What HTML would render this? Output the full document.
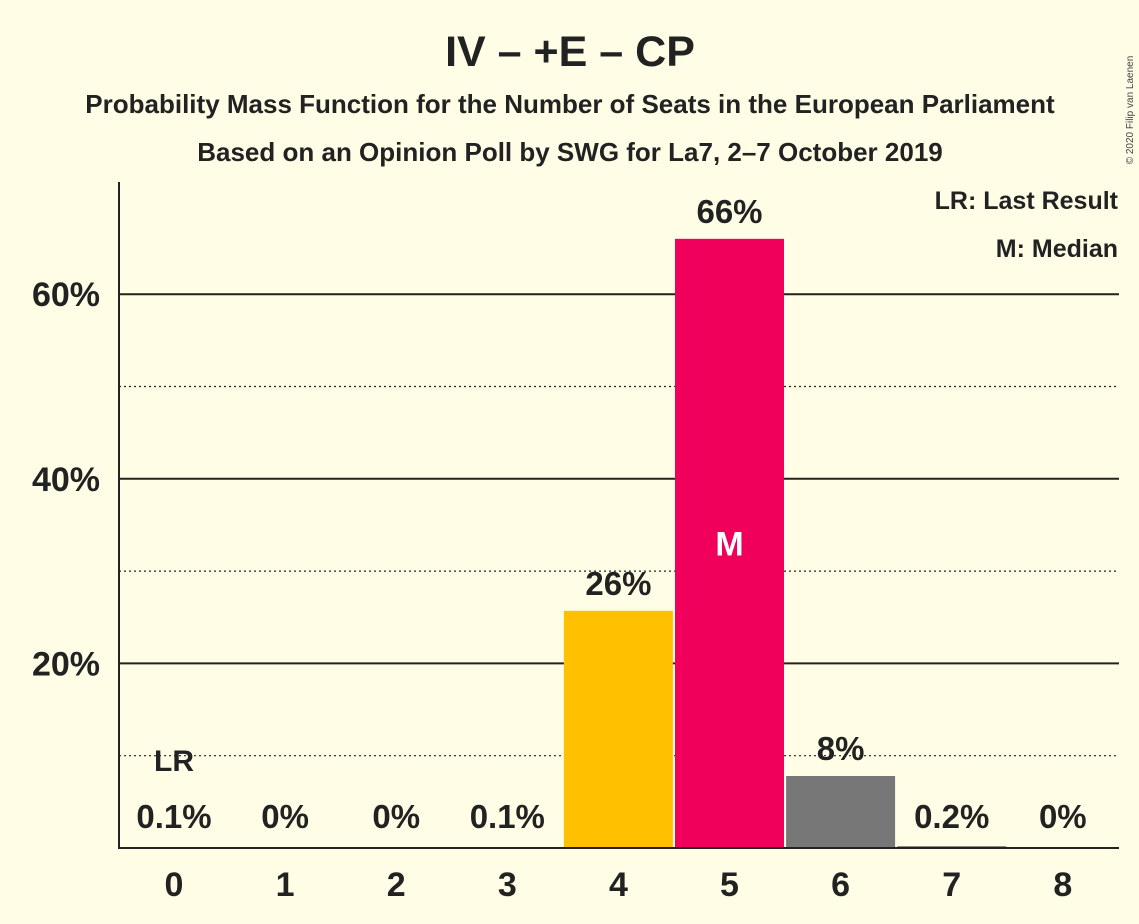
<!DOCTYPE html>
<html><head><meta charset="utf-8"><style>
body{margin:0;background:#fffee6;}
svg{display:block;font-family:"Liberation Sans",sans-serif;}
</style></head><body>
<svg id="chart" width="1139" height="924" viewBox="0 0 1139 924">
<rect width="1139" height="924" fill="#fffde5"/>
<text x="570" y="66" text-anchor="middle" font-size="43" font-weight="bold" fill="#222">IV – +E – CP</text>
<text x="570" y="113" text-anchor="middle" font-size="26" font-weight="bold" fill="#222">Probability Mass Function for the Number of Seats in the European Parliament</text>
<text x="570" y="161" text-anchor="middle" font-size="26" font-weight="bold" fill="#222">Based on an Opinion Poll by SWG for La7, 2–7 October 2019</text>
<text x="1133" y="110" font-size="10" fill="#444" transform="rotate(-90 1133 110)" text-anchor="middle">© 2020 Filip van Laenen</text>
<text x="1118" y="209" text-anchor="end" font-size="25" font-weight="bold" fill="#222">LR: Last Result</text>
<text x="1118" y="257" text-anchor="end" font-size="25" font-weight="bold" fill="#222">M: Median</text>
<g id="grid"></g><g id="bars"></g><g id="labels"></g>
<line x1="119" y1="182" x2="119" y2="848" stroke="#222" stroke-width="2"/>
<line x1="118" y1="848" x2="1119" y2="848" stroke="#222" stroke-width="2"/>
</svg>
<script>
const seats=[0,1,2,3,4,5,6,7,8];
const probs=[0.1,0,0,0.1,25.7,66,7.8,0.2,0];
const valueLabels=["0.1%","0%","0%","0.1%","26%","66%","8%","0.2%","0%"];
const colors=["#ffc000","#ffc000","#ffc000","#ffc000","#ffc000","#f0005a","#777777","#777777","#777777"];
const yTicks=[20,40,60];
const yMinor=[10,30,50];
const lastResult=0, median=5;
const NS="http://www.w3.org/2000/svg";
const y=v=>848-v*9.23;
const x=s=>174+s*111.1;
const bw=109;
function mk(t,a,p){const e=document.createElementNS(NS,t);for(const k in a)e.setAttribute(k,a[k]);p.appendChild(e);return e;}
const g=document.getElementById('grid'),b=document.getElementById('bars'),l=document.getElementById('labels');
yMinor.forEach(v=>{const e=mk('line',{x1:119,x2:1119,y1:y(v),y2:y(v),stroke:'#222','stroke-width':1.2,'stroke-dasharray':'2,3'},g);

});
yTicks.forEach(v=>{const e=mk('line',{x1:119,x2:1119,y1:y(v),y2:y(v),stroke:'#222','stroke-width':2},g);


const t=mk('text',{x:100,y:y(v)+12,'text-anchor':'end','font-size':34,'font-weight':'bold',fill:'#222'},l);t.textContent=v+'%';

});
seats.forEach((s,i)=>{
const p=probs[i];
if(p>0){const r=mk('rect',{x:x(s)-bw/2,y:y(p),width:bw,height:848-y(p),fill:colors[i]},b);

}
const t=mk('text',{x:x(s),y:896,'text-anchor':'middle','font-size':34,'font-weight':'bold',fill:'#222'},l);t.textContent=s;


const ly=p>2?y(p)-16:828;
const v=mk('text',{x:x(s),y:ly,'text-anchor':'middle','font-size':33,'font-weight':'bold',fill:'#222'},l);v.textContent=valueLabels[i];


if(s===median){const m=mk('text',{x:x(s),y:y(p/2)+12,'text-anchor':'middle','font-size':34,'font-weight':'bold',fill:'#fff'},l);m.textContent='M';

}
if(s===lastResult){const m=mk('text',{x:x(s),y:771,'text-anchor':'middle','font-size':30,'font-weight':'bold',fill:'#222'},l);m.textContent='LR';

}
});
</script>
</body></html>
